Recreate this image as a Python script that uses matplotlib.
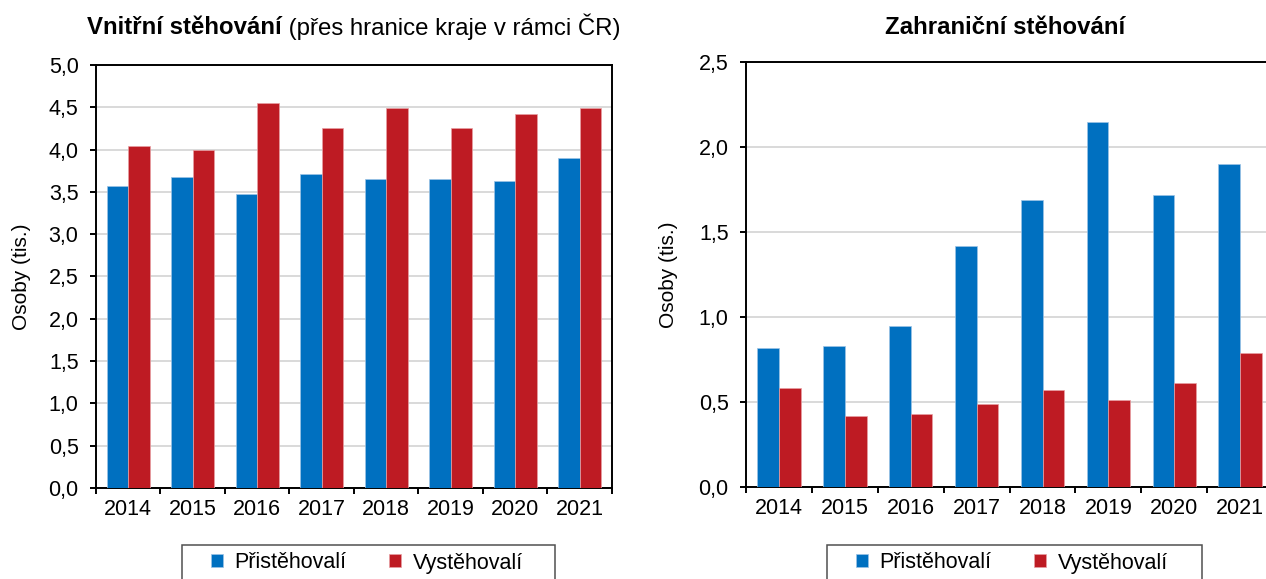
import numpy as np
import matplotlib
matplotlib.use("Agg")
import matplotlib.pyplot as plt
from matplotlib.patches import Rectangle
from matplotlib.ticker import FuncFormatter, FixedLocator

plt.rcParams['font.family'] = ['Liberation Sans', 'DejaVu Sans']

years = ['2014', '2015', '2016', '2017', '2018', '2019', '2020', '2021']

# vnitrni stehovani (tis. osob)
vnitrni_pri = [3.57, 3.67, 3.48, 3.71, 3.65, 3.65, 3.63, 3.90]
vnitrni_vy = [4.04, 4.00, 4.55, 4.26, 4.49, 4.25, 4.42, 4.49]

# zahranicni stehovani (tis. osob)
zahr_pri = [0.82, 0.83, 0.95, 1.42, 1.69, 2.15, 1.72, 1.90]
zahr_vy = [0.58, 0.42, 0.43, 0.49, 0.57, 0.51, 0.61, 0.79]

labels = ['Přistěhovalí', 'Vystěhovalí']
blue = '#0070C0'
red = '#BE1B23'

W, H = 1266, 579
fig = plt.figure(figsize=(12.66, 5.79), dpi=100)
ax1 = fig.add_axes([0.0758, 0.1572, 0.4076, 0.7306])
ax2 = fig.add_axes([0.5893, 0.1589, 0.4163, 0.7340])

comma = FuncFormatter(lambda v, p: f'{v:.1f}'.replace('.', ','))


def draw(ax, pri, vy, ymax):
    x = np.arange(len(years))
    w = 0.33
    b1 = ax.bar(x - w / 2, pri, w, color=blue, edgecolor='#9cc3e5', linewidth=0.5, zorder=3)
    b2 = ax.bar(x + w / 2, vy, w, color=red, edgecolor='#e8a0a4', linewidth=0.5, zorder=3)
    ax.set_xlim(-0.5, len(years) - 0.5)
    ax.set_ylim(0, ymax)
    ax.set_yticks(np.arange(0, ymax + 0.01, 0.5))
    ax.yaxis.set_major_formatter(comma)
    ax.yaxis.grid(True, color='#cfcfcf', linewidth=1.1, zorder=0)
    ax.set_axisbelow(True)
    # ticks between categories, labels in the middle
    ax.xaxis.set_major_locator(FixedLocator(np.arange(-0.5, len(years), 1.0)))
    ax.xaxis.set_major_formatter(FuncFormatter(lambda v, p: ''))
    ax.set_xticks(x, years, minor=True)
    ax.tick_params(axis='x', which='major', direction='out', length=4.5, width=1.4)
    ax.tick_params(axis='x', which='minor', length=0, labelsize=15.5, pad=8)
    ax.tick_params(axis='y', direction='out', length=4.5, width=1.4, labelsize=15.5, pad=8)
    for s in ax.spines.values():
        s.set_linewidth(1.4)
    ax.set_ylabel('Osoby (tis.)', fontsize=15)
    return b1, b2


b1, b2 = draw(ax1, vnitrni_pri, vnitrni_vy, 5.0)
draw(ax2, zahr_pri, zahr_vy, 2.5)
ax1.yaxis.set_label_coords(-0.125, 0.5)
ax2.yaxis.set_label_coords(-0.13, 0.5)

# nadpisy
ty = 1 - 27 / H
t1 = fig.text(0, ty, 'Vnitřní stěhování', fontsize=17.3, fontweight='bold', va='center')
t2 = fig.text(0, ty, ' (přes hranice kraje v rámci ČR)', fontsize=17.3, va='center')
fig.canvas.draw()
r = fig.canvas.get_renderer()
w1 = t1.get_window_extent(r).width
w2 = t2.get_window_extent(r).width
start = 354 - (w1 + w2) / 2
t1.set_x(start / W)
t2.set_x((start + w1) / W)
fig.text(1005 / W, ty, 'Zahraniční stěhování', fontsize=17.3, fontweight='bold',
         va='center', ha='center')

# legendy (ramecek zvlast, spodek je oriznuty)
for bx0, bx1 in [(182, 555), (827, 1202)]:
    fig.patches.append(Rectangle((bx0 / W, -0.05), (bx1 - bx0) / W, 0.05 + 1 - 545 / H,
                                 transform=fig.transFigure, facecolor='white',
                                 edgecolor='#505050', linewidth=1.1))
    fig.legend([b1, b2], labels, loc='center left',
               bbox_to_anchor=((bx0 + 29) / W, 1 - 563 / H),
               ncol=2, fontsize=15.5, frameon=False,
               handlelength=0.55, handleheight=0.55, handletextpad=0.55,
               columnspacing=1.97, borderpad=0, borderaxespad=0)

fig.savefig('out.png', dpi=100)
